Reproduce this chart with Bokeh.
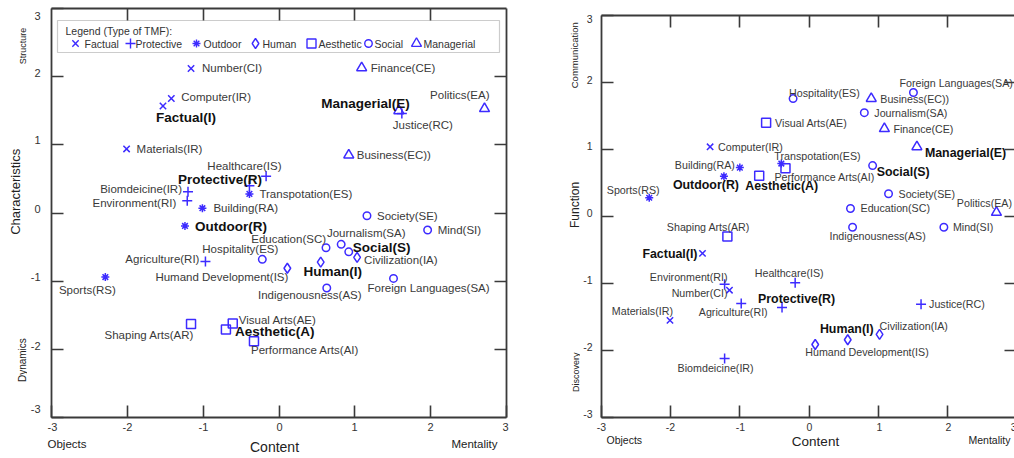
import math
from bokeh.plotting import figure
from bokeh.models import ColumnDataSource, LinearAxis, FixedTicker, BoxAnnotation, Range1d, AllLabels
from bokeh.layouts import row, column
from bokeh.embed import file_html
from bokeh.resources import INLINE
from bokeh.core.properties import value

# ---------------- data ----------------
NAMES = ["Number(CI)", "Computer(IR)", "Materials(IR)", "Factual(I)",
         "Biomdeicine(IR)", "Environment(RI)", "Agriculture(RI)", "Healthcare(IS)", "Justice(RC)", "Protective(R)",
         "Building(RA)", "Sports(RS)", "Transpotation(ES)", "Outdoor(R)",
         "Humand Development(IS)", "Civilization(IA)", "Human(I)",
         "Society(SE)", "Mind(SI)", "Journalism(SA)", "Education(SC)", "Hospitality(ES)", "Indigenousness(AS)",
         "Foreign Languages(SA)", "Social(S)",
         "Shaping Arts(AR)", "Visual Arts(AE)", "Performance Arts(AI)", "Aesthetic(A)",
         "Finance(CE)", "Politics(EA)", "Business(EC))", "Managerial(E)"]
TYPES = ["Factual"] * 4 + ["Protective"] * 6 + ["Outdoor"] * 4 + ["Human"] * 3 + ["Social"] * 8 + \
        ["Aesthetic"] * 4 + ["Managerial"] * 4
CENTROIDS = ["Factual(I)", "Protective(R)", "Outdoor(R)", "Human(I)", "Social(S)", "Aesthetic(A)", "Managerial(E)"]

# left panel: Content (x) vs Characteristics (y)
LEFT_X = [-1.16, -1.42, -2.01, -1.53, -1.20, -1.21, -0.97, -0.39, 1.62, -0.17, -1.01, -2.29, -0.39, -1.24,
          0.11, 1.03, 0.55, 1.16, 1.96, 0.82, 0.62, -0.22, 0.63, 1.51, 0.92, -1.16, -0.61, -0.33, -0.70,
          1.09, 2.71, 0.92, 1.58]
LEFT_Y = [2.12, 1.68, 0.94, 1.57, 0.31, 0.18, -0.71, 0.40, 1.46, 0.54, 0.07, -0.94, 0.28, -0.19,
          -0.81, -0.65, -0.72, -0.04, -0.25, -0.46, -0.51, -0.68, -1.10, -0.96, -0.57, -1.63, -1.62, -1.88, -1.71,
          2.13, 1.53, 0.85, 1.50]
# right panel: Content (x) vs Function (y)
RIGHT_X = [-1.15, -1.43, -2.01, -1.54, -1.22, -1.22, -0.98, -0.20, 1.62, -0.39, -1.00, -2.31, -0.40, -1.23,
           0.09, 1.02, 0.56, 1.15, 1.95, 0.80, 0.60, -0.23, 0.63, 1.51, 0.92, -1.18, -0.62, -0.34, -0.72,
           1.09, 2.71, 0.90, 1.56]
RIGHT_Y = [-1.10, 1.04, -1.55, -0.55, -2.12, -1.01, -1.30, -0.99, -1.31, -1.36, 0.73, 0.28, 0.79, 0.60,
           -1.91, -1.76, -1.84, 0.34, -0.16, 1.55, 0.12, 1.76, -0.16, 1.85, 0.76, -0.30, 1.40, 0.72, 0.61,
           1.31, 0.06, 1.76, 1.04]

GROUPS = ["Factual", "Protective", "Outdoor", "Human", "Aesthetic", "Social", "Managerial"]
TICKS = [-3, -2, -1, 0, 1, 2, 3]
TICK_LABELS = ["-3", "-2", "-1", "0", "1", "2", "3"]
INNER_TICKS = [-2, -1, 0, 1, 2]

# ---------------- layout (page pixels) ----------------
# tick-label centres (page px) for TICK_LABELS order; they sit slightly off the ticks as in the original
LEFT_YLABEL_PAGE_Y = [408, 346, 277, 208, 140, 73, 15]
RIGHT_YLABEL_PAGE_Y = [413, 347, 280, 213, 146, 80, 19]
LEFT_XLABEL_PAGE_X = [50, 125, 201, 277, 352, 428, 503]
RIGHT_XLABEL_PAGE_X = [598, 667, 737, 806, 876, 945, 1013]

# point-label placement (anchor, dx px, dy px; dy downward)
LEFT_LABEL_LAYOUT = [("l", 11, 0), ("l", 10, -1), ("l", 10, 0), ("c", 23, 12),
                     ("r", -6, -3), ("r", -11, 2), ("r", -6, -2), ("c", -5, -20), ("c", 21, 12), ("r", -4, 3),
                     ("l", 11, 0), ("c", -18, 13), ("l", 10, 0), ("l", 10, 1),
                     ("r", 1, 9), ("l", 7, 3), ("c", 12, 9),
                     ("l", 10, 0), ("l", 10, 0), ("c", 25, -11), ("r", 0, -9), ("c", -22, -10), ("c", -17, 7),
                     ("l", -26, 10), ("l", 4, -4),
                     ("r", 3, 11), ("l", 6, -3), ("l", -3, 9), ("l", 9, 2),
                     ("l", 9, 0), ("r", 5, -14), ("l", 8, 0), ("r", 11, -7)]
RIGHT_LABEL_LAYOUT = [("r", -2, 3), ("l", 8, 0), ("r", 3, -9), ("r", -5, 1),
                      ("c", -9, 9), ("r", 3, -7), ("c", -8, 8), ("c", -6, -10), ("l", 8, 0), ("l", -24, -9),
                      ("r", -5, -3), ("c", -16, -8), ("l", -7, -8), ("c", -18, 9),
                      ("l", -10, 8), ("l", 0, -8), ("c", -1, -11),
                      ("l", 10, 0), ("l", 9, 0), ("l", 10, 0), ("l", 10, 0), ("l", -4, -6), ("c", 25, 9),
                      ("l", -14, -10), ("l", 4, 6),
                      ("c", -19, -10), ("l", 9, 0), ("l", -11, 9), ("l", -14, 10),
                      ("l", 9, 0), ("c", -12, -9), ("l", 9, 0), ("l", 8, 6)]

# ---------------- style ----------------
FONT = "Liberation Sans"
MARK_COLOR = "#3d2bff"
AXIS_COLOR = "#3a3a3a"
LABEL_COLOR = "#3a3a3a"
BOLD_COLOR = "#111111"
TICK_COLOR = "#333333"
TITLE_COLOR = "#222222"
MARKERS = {"Factual": "x", "Protective": "cross", "Outdoor": "asterisk", "Human": "diamond",
           "Aesthetic": "square", "Social": "circle", "Managerial": "triangle"}
MARKER_SIZE = {"Factual": 9, "Protective": 10, "Outdoor": 8, "Human": 10, "Aesthetic": 9,
               "Social": 7.5, "Managerial": 10}
ALIGN = {"l": "left", "c": "center", "r": "right"}


def tick_axis(ax, ticks, line=True):
    """Axis that draws the frame line and inward ticks only."""
    ax.ticker = FixedTicker(ticks=ticks)
    ax.major_tick_in = 12
    ax.major_tick_out = 0
    ax.minor_tick_line_color = None
    ax.major_tick_line_color = AXIS_COLOR
    ax.major_tick_line_width = 1.6
    ax.axis_line_color = AXIS_COLOR if line else None
    ax.axis_line_width = 1.8
    ax.axis_label = None
    ax.major_label_text_color = None
    ax.major_label_text_alpha = 0
    ax.major_label_text_font_size = "0px"
    ax.major_label_standoff = 0


def label_axis(ax, positions, labels, font_size, standoff):
    """Axis that only carries the tick labels."""
    ax.ticker = FixedTicker(ticks=positions)
    ax.major_label_overrides = {pos: lab for pos, lab in zip(positions, labels)}
    ax.major_label_policy = AllLabels()
    ax.major_tick_line_color = None
    ax.minor_tick_line_color = None
    ax.axis_line_color = None
    ax.major_tick_in = 0
    ax.major_tick_out = 0
    ax.major_label_text_font = FONT
    ax.major_label_text_font_size = font_size
    ax.major_label_text_color = TICK_COLOR
    ax.major_label_standoff = standoff
    ax.axis_label = None


def make_panel(xs, ys, layout, frame, borders, sizes, xlabel_pos, ylabel_pos, ylab_standoff, right_line):
    fw, fh = frame
    bl, br, bt, bb = borders
    lab_size, bold_size, tick_size = sizes
    sx = fw / 6.0
    sy = fh / 6.0
    p = figure(frame_width=fw, frame_height=fh, min_border_left=bl, min_border_right=br,
               min_border_top=bt, min_border_bottom=bb, x_range=Range1d(-3, 3), y_range=Range1d(-3, 3),
               output_backend="svg", toolbar_location=None)
    p.grid.visible = False
    p.outline_line_color = None
    # bottom: ticks-only axis + label axis
    tick_axis(p.xaxis[0], TICKS)
    xlab = LinearAxis()
    label_axis(xlab, xlabel_pos, TICK_LABELS, tick_size, 5)
    p.add_layout(xlab, "below")
    # left: ticks-only axis + label axis
    tick_axis(p.yaxis[0], TICKS)
    ylab = LinearAxis()
    label_axis(ylab, ylabel_pos, TICK_LABELS, tick_size, ylab_standoff)
    p.add_layout(ylab, "left")
    top = LinearAxis()
    tick_axis(top, INNER_TICKS)
    p.add_layout(top, "above")
    rgt = LinearAxis()
    tick_axis(rgt, INNER_TICKS, line=right_line)
    p.add_layout(rgt, "right")

    for g in GROUPS:
        idx = [i for i, t in enumerate(TYPES) if t == g]
        src = ColumnDataSource(dict(x=[xs[i] for i in idx], y=[ys[i] for i in idx]))
        p.scatter("x", "y", source=src, marker=MARKERS[g], size=MARKER_SIZE[g], line_color=MARK_COLOR,
                  fill_color=None, line_width=1.5)

    for code in ("l", "c", "r"):
        for bold in (False, True):
            idx = [i for i in range(len(NAMES))
                   if layout[i][0] == code and ((NAMES[i] in CENTROIDS) == bold)]
            if not idx:
                continue
            src = ColumnDataSource(dict(x=[xs[i] + layout[i][1] / sx for i in idx],
                                        y=[ys[i] - layout[i][2] / sy for i in idx],
                                        t=[NAMES[i] for i in idx]))
            p.text(x="x", y="y", text="t", source=src, text_align=ALIGN[code], text_baseline="middle",
                   text_font=value(FONT), text_font_size=bold_size if bold else lab_size,
                   text_font_style="bold" if bold else "normal",
                   text_color=BOLD_COLOR if bold else LABEL_COLOR)
    return p, sx, sy


def margin_fig(x0, x1, y0, y1):
    """Blank strip whose coordinates are page pixels (y negated so up is up)."""
    m = figure(width=x1 - x0, height=y1 - y0, x_range=Range1d(x0, x1), y_range=Range1d(-y1, -y0),
               min_border=0, x_axis_location=None, y_axis_location=None, toolbar_location=None,
               output_backend="svg")
    m.grid.visible = False
    m.outline_line_color = None
    return m


def put(m, x, y, text, size, align="center", angle=0.0, color=TITLE_COLOR):
    m.text(x=[x], y=[-y], text=[text], text_align=align, text_baseline="middle", angle=angle,
           text_font=value(FONT), text_font_size=size, text_color=color)


# ---------------- left block (page x 0..512, y 0..457) ----------------
L_LEFT, L_TOP, LFW, LFH = 49, 8, 455, 409
left_ylab = [round(3 - (py - L_TOP) / (LFH / 6.0), 4) for py in LEFT_YLABEL_PAGE_Y]
left_xlab = [round(-3 + (px - L_LEFT) / (LFW / 6.0), 4) for px in LEFT_XLABEL_PAGE_X]
pl, SXL, SYL = make_panel(LEFT_X, LEFT_Y, LEFT_LABEL_LAYOUT, (LFW, LFH), (22, 8, 8, 18),
                          ("11.5px", "13.5px", "11px"), left_xlab, left_ylab, 11, True)


def LX(px):
    return -3 + (px - L_LEFT) / SXL


def LY(py):
    return 3 - (py - L_TOP) / SYL


# legend (inside the left frame)
LEGEND_MARK_PX = [73, 128, 194, 253, 309, 366, 414]
LEGEND_TEXT_PX = [82, 133, 201, 260, 316, 372, 421]
pl.add_layout(BoxAnnotation(left=LX(55), right=LX(497), top=LY(20), bottom=LY(52), fill_color=None,
                            line_color="#555555", line_width=1.2))
pl.text(x=[LX(63)], y=[LY(30)], text=["Legend (Type of TMF):"], text_align="left", text_baseline="middle",
        text_font=value(FONT), text_font_size="10.5px", text_color="#333333")
for g, mx, tx in zip(GROUPS, LEGEND_MARK_PX, LEGEND_TEXT_PX):
    pl.scatter(x=[LX(mx)], y=[LY(43)], marker=MARKERS[g], size=MARKER_SIZE[g], line_color=MARK_COLOR,
               fill_color=None, line_width=1.4)
    pl.text(x=[LX(tx)], y=[LY(43)], text=[g], text_align="left", text_baseline="middle",
            text_font=value(FONT), text_font_size="10.5px", text_color="#333333")

lm = margin_fig(0, 27, 0, 435)
put(lm, 15, 195, "Characteristics", "13px", angle=math.pi / 2)
put(lm, 22, 40, "Structure", "9px", angle=math.pi / 2)
put(lm, 22, 374, "Dynamics", "10px", angle=math.pi / 2)

lb = margin_fig(0, 512, 435, 457)
put(lb, 47, 443, "Objects", "11.5px", align="left")
put(lb, 497, 443, "Mentality", "11.5px", align="right")
put(lb, 274, 446, "Content", "14px")

# ---------------- right block (page x 512..1013, y 0..457) ----------------
R_LEFT, R_TOP, RFW, RFH = 598, 15, 415, 402
right_ylab = [round(3 - (py - R_TOP) / (RFH / 6.0), 4) for py in RIGHT_YLABEL_PAGE_Y]
right_xlab = [round(-3 + (px - R_LEFT) / (RFW / 6.0), 4) for px in RIGHT_XLABEL_PAGE_X]
pr, SXR, SYR = make_panel(RIGHT_X, RIGHT_Y, RIGHT_LABEL_LAYOUT, (RFW, RFH), (20, 0, 15, 18),
                          ("10.7px", "12.4px", "10.5px"), right_xlab, right_ylab, 9, False)

rm = margin_fig(512, 578, 0, 435)
put(rm, 572, 43, "Communication", "9.5px", angle=math.pi / 2)
put(rm, 572, 205, "Function", "12px", angle=math.pi / 2)
put(rm, 573, 386, "Discovery", "9px", angle=math.pi / 2)

rb = margin_fig(512, 1013, 435, 457)
put(rb, 604, 439.5, "Objects", "10.5px", align="left")
put(rb, 966, 439.5, "Mentality", "10.5px", align="left")
put(rb, 813, 441, "Content", "13.5px")

left_block = column(row(lm, pl), lb)
right_block = column(row(rm, pr), rb)
page = row(left_block, right_block)
open("out.html", "w").write(file_html(page, INLINE))
